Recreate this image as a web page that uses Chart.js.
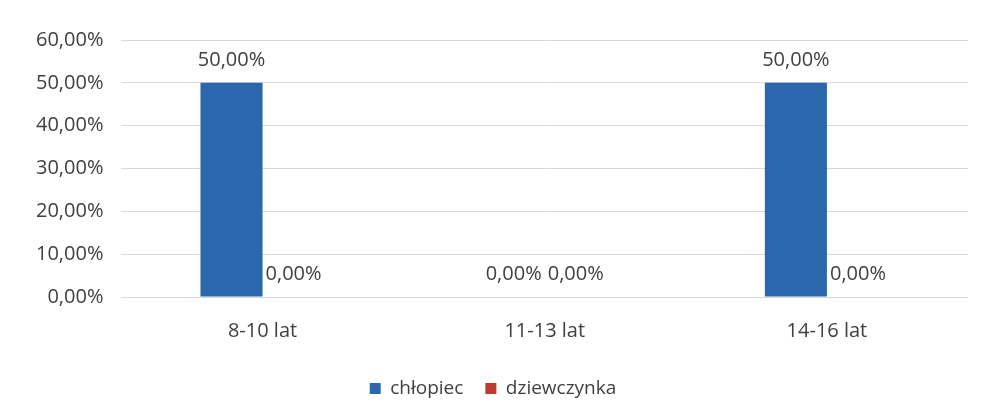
<!DOCTYPE html>
<html>
<head>
<meta charset="utf-8">
<script src="https://cdn.jsdelivr.net/npm/chart.js@4"></script>
<style>
  html, body { margin: 0; padding: 0; background: #fff; }
  #wrap { width: 981px; height: 412px; position: relative; }
</style>
</head>
<body>
<div id="wrap"><canvas id="bar-plot"></canvas></div>
<script>
var categories = ["8-10 lat", "11-13 lat", "14-16 lat"];
var chlopiec = [0.5, 0, 0.5];
var dziewczynka = [0, 0, 0];
var yTicks = [0, 0.1, 0.2, 0.3, 0.4, 0.5, 0.6];

function pct(v) {
  return (v * 100).toFixed(2).replace(".", ",") + "%";
}

// draws value labels above each bar
var valueLabels = {
  id: "valueLabels",
  afterDatasetsDraw: function (chart) {
    var ctx = chart.ctx;
    ctx.save();
    ctx.font = "20px 'Open Sans'";
    ctx.fillStyle = "#404040";
    ctx.textAlign = "center";
    ctx.textBaseline = "bottom";
    chart.data.datasets.forEach(function (ds, i) {
      chart.getDatasetMeta(i).data.forEach(function (bar, j) {
        ctx.fillText(pct(ds.data[j]), bar.x, bar.y - 13);
      });
    });
    ctx.restore();
  }
};

new Chart("bar-plot", {
  type: "bar",
  data: {
    labels: categories,
    datasets: [{
      label: "chłopiec",
      backgroundColor: "#2C67AE",
      data: chlopiec,
      categoryPercentage: 0.44,
      barPercentage: 1
    }, {
      label: "dziewczynka",
      backgroundColor: "#C0392F",
      data: dziewczynka,
      categoryPercentage: 0.44,
      barPercentage: 1
    }]
  },
  options: {
    responsive: true,
    maintainAspectRatio: false,
    animation: false,
    layout: { padding: { top: 40, right: 13, left: 18, bottom: 4 } },
    plugins: {
      tooltip: { enabled: false },
      legend: {
        display: true,
        position: "bottom",
        labels: {
          boxWidth: 11,
          boxHeight: 11,
          padding: 22,
          color: "#404040",
          font: { family: "'Open Sans'", size: 19 }
        }
      }
    },
    scales: {
      x: {
        grid: { display: false },
        border: { display: false },
        ticks: {
          color: "#404040",
          padding: 14,
          font: { family: "'Open Sans'", size: 20 }
        }
      },
      y: {
        min: 0,
        max: 0.6,
        afterBuildTicks: function (axis) {
          axis.ticks = yTicks.map(function (v) { return { value: v }; });
        },
        border: { display: false },
        grid: { color: "#d9d9d9", drawTicks: false },
        ticks: {
          color: "#404040",
          padding: 18,
          font: { family: "'Open Sans'", size: 20 },
          callback: function (v) { return pct(v); }
        }
      }
    }
  },
  plugins: [valueLabels]
});
</script>
</body>
</html>
